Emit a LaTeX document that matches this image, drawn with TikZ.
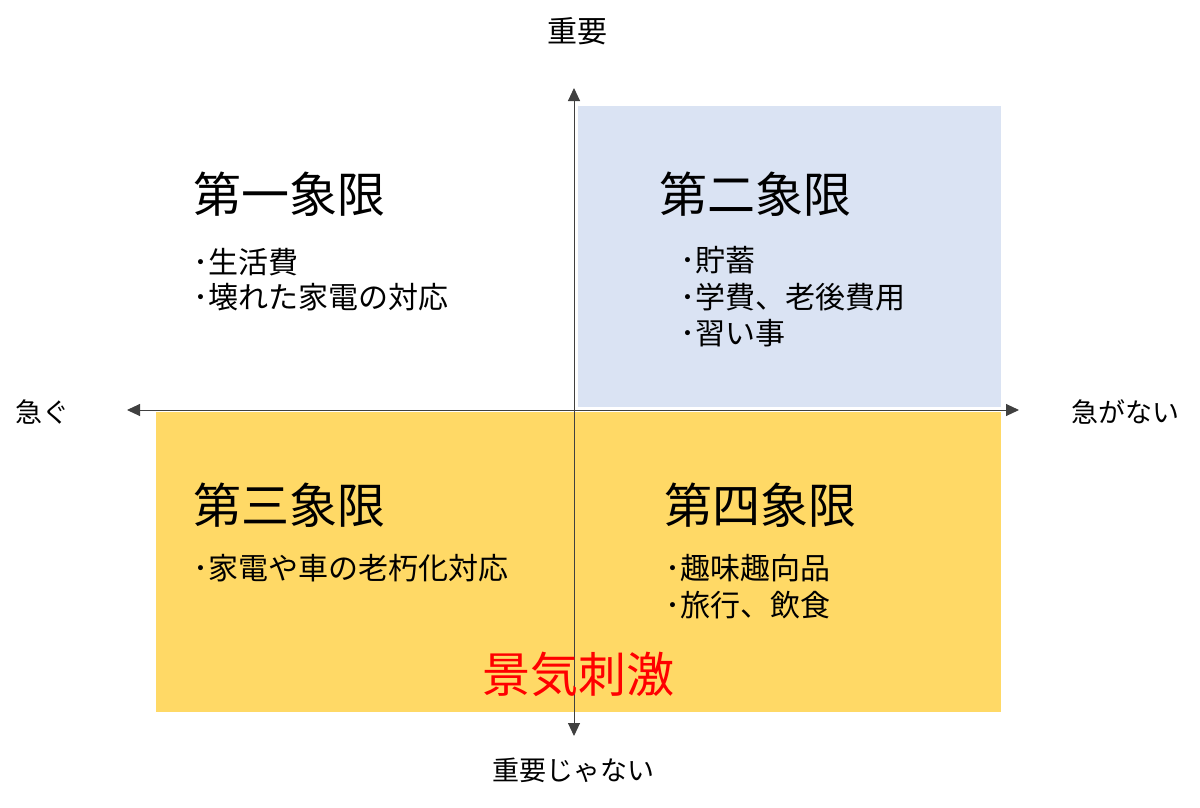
\documentclass[tikz,border=0pt]{standalone}
\usepackage{fontspec}
\setmainfont{Noto Sans CJK JP}
\usetikzlibrary{arrows.meta}
\definecolor{qblue}{HTML}{DAE3F3}
\definecolor{qyellow}{HTML}{FFD966}
\definecolor{axisgray}{HTML}{404040}
\tikzset{
  title/.style={anchor=west, inner sep=0pt, font=\fontsize{48}{50}\selectfont},
  item/.style={anchor=west, inner sep=0pt, font=\fontsize{30}{32}\selectfont},
  axlabel/.style={inner sep=0pt, font=\fontsize{27}{30}\selectfont},
  axis/.style={draw=axisgray, line width=1pt, -{Triangle[length=13pt,width=12pt]}, color=axisgray}
}
\begin{document}
\begin{tikzpicture}[x=1pt,y=-1pt]
\useasboundingbox (0,0) rectangle (1200,807);
% regions
\fill[qblue] (578,106) rectangle (1001,407);
\fill[qyellow] (156,412) rectangle (1001,712);
% axis endpoints
\coordinate (c) at (574,410);
\coordinate (top) at (574,88);
\coordinate (bot) at (574,736);
\coordinate (lft) at (127,410);
\coordinate (rgt) at (1019,410);
\draw[axis] (c) -- (top);
\draw[axis] (c) -- (bot);
\draw[axis] (c) -- (lft);
\draw[axis] (c) -- (rgt);
% axis labels
\node[axlabel, font=\fontsize{30}{32}\selectfont] (imp) at (577,31) {重要};
\node[axlabel] (notimp) at (573,770) {重要じゃない};
\node[axlabel] (urg) at (43,412) {急ぐ};
\node[axlabel] (noturg) at (1125,412) {急がない};
% titles
\node[title] (q1) at (193,194) {第一象限};
\node[title] (q2) at (659,194) {第二象限};
\node[title] (q3) at (193,505) {第三象限};
\node[title] (q4) at (664,505) {第四象限};
% items
\node[item] (i11) at (193,262) {･生活費};
\node[item] (i12) at (193,297) {･壊れた家電の対応};
\node[item] (i21) at (680,260) {･貯蓄};
\node[item] (i22) at (680,297) {･学費、老後費用};
\node[item] (i23) at (680,333) {･習い事};
\node[item] (i31) at (193,568) {･家電や車の老朽化対応};
\node[item] (i41) at (665,568) {･趣味趣向品};
\node[item] (i42) at (665,605) {･旅行、飲食};
\node[inner sep=0pt, text=red, font=\fontsize{48}{50}\selectfont] (boost) at (578,674) {景気刺激};
\end{tikzpicture}
\end{document}
